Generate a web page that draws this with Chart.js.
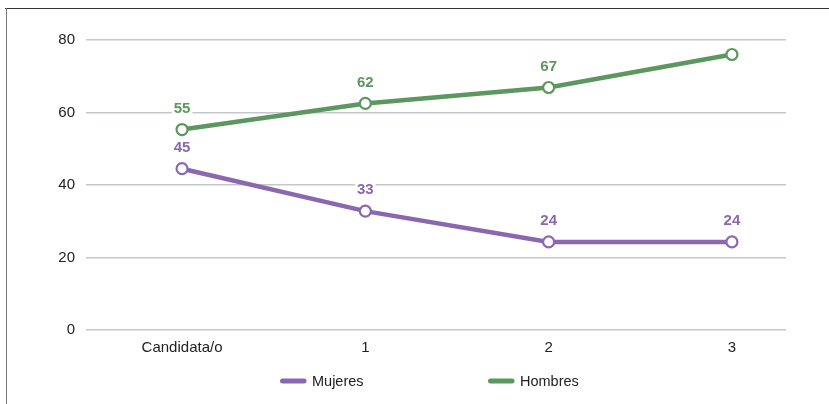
<!DOCTYPE html>
<html>
<head>
<meta charset="utf-8">
<script src="https://cdn.jsdelivr.net/npm/chart.js@4/dist/chart.umd.min.js"></script>
<style>
	html, body { margin: 0; padding: 0; background: #fff; }
	#wrap { position: relative; width: 829px; height: 404px; }
</style>
</head>
<body>
<div id="wrap"><canvas id="chart" width="829" height="404"></canvas></div>
<script>
	// values
	var categories = ['Candidata/o', '1', '2', '3'];
	var mujeres = [44.5, 32.8, 24.3, 24.3];
	var hombres = [55.3, 62.5, 66.9, 76];
	var mujeresLabels = ['45', '33', '24', '24'];
	var hombresLabels = ['55', '62', '67', null];
	var yTicks = [0, 20, 40, 60, 80];

	var purple = '#8b67b0';
	var green = '#5b975e';
	var fontFamily = '"Liberation Sans", Arial, Helvetica, sans-serif';

	function toPoints(values) {
		return values.map(function (v, i) {
			return { x: i, y: v };
		});
	}

	// frame lines round the figure
	var framePlugin = {
		id: 'frame',
		beforeDraw: function (chart) {
			var ctx = chart.ctx;
			ctx.save();
			ctx.fillStyle = '#fff';
			ctx.fillRect(0, 0, chart.width, chart.height);
			ctx.lineWidth = 1;
			ctx.strokeStyle = '#333';
			ctx.beginPath();
			ctx.moveTo(5, 8.5);
			ctx.lineTo(chart.width, 8.5);
			ctx.stroke();
			ctx.strokeStyle = '#777';
			ctx.beginPath();
			ctx.moveTo(6.5, 8);
			ctx.lineTo(6.5, chart.height);
			ctx.stroke();
			ctx.restore();
		}
	};

	// value labels above the points, on a white box
	var valueLabels = {
		id: 'valueLabels',
		afterDatasetsDraw: function (chart) {
			var ctx = chart.ctx;
			ctx.save();
			ctx.font = 'bold 15px ' + fontFamily;
			ctx.textAlign = 'center';
			ctx.textBaseline = 'middle';
			chart.data.datasets.forEach(function (ds, di) {
				var meta = chart.getDatasetMeta(di);
				meta.data.forEach(function (pt, i) {
					var txt = ds.valueLabels[i];
					if (!txt) {
						return;
					}
					var x = pt.x;
					var y = pt.y - 22;
					var w = ctx.measureText(txt).width;
					ctx.fillStyle = '#fff';
					ctx.fillRect(x - w / 2 - 2, y - 8, w + 4, 16);
					ctx.fillStyle = ds.borderColor;
					ctx.fillText(txt, x, y + 1);
				});
			});
			ctx.restore();
		}
	};

	// legend drawn under the axis, items spread apart
	var bottomLegend = {
		id: 'bottomLegend',
		afterDraw: function (chart) {
			var ctx = chart.ctx;
			var starts = [280, 488];
			var y = 381;
			ctx.save();
			ctx.font = '14.5px ' + fontFamily;
			ctx.textBaseline = 'middle';
			ctx.textAlign = 'left';
			chart.data.datasets.forEach(function (ds, di) {
				var x = starts[di];
				ctx.strokeStyle = ds.borderColor;
				ctx.lineWidth = 5;
				ctx.lineCap = 'round';
				ctx.beginPath();
				ctx.moveTo(x + 2.5, y);
				ctx.lineTo(x + 24, y);
				ctx.stroke();
				ctx.fillStyle = '#222';
				ctx.fillText(ds.label, x + 32, y + 1);
			});
			ctx.restore();
		}
	};

	new Chart(document.getElementById('chart'), {
		type: 'line',
		data: {
			datasets: [{
				label: 'Mujeres',
				data: toPoints(mujeres),
				valueLabels: mujeresLabels,
				borderColor: purple,
				backgroundColor: '#fff',
				borderWidth: 4.5,
				pointRadius: 5.5,
				pointBorderWidth: 2.2,
				pointBackgroundColor: '#fff',
				pointBorderColor: purple,
				tension: 0
			}, {
				label: 'Hombres',
				data: toPoints(hombres),
				valueLabels: hombresLabels,
				borderColor: green,
				backgroundColor: '#fff',
				borderWidth: 4.5,
				pointRadius: 5.5,
				pointBorderWidth: 2.2,
				pointBackgroundColor: '#fff',
				pointBorderColor: green,
				tension: 0
			}]
		},
		plugins: [framePlugin, valueLabels, bottomLegend],
		options: {
			responsive: false,
			animation: false,
			clip: false,
			layout: {
				padding: { left: 0, right: 43, top: 40, bottom: 34 }
			},
			plugins: {
				legend: { display: false },
				tooltip: { enabled: false }
			},
			scales: {
				x: {
					type: 'linear',
					min: -0.524,
					max: 3.295,
					grid: { display: false, drawTicks: false },
					border: { display: false },
					afterBuildTicks: function (scale) {
						scale.ticks = categories.map(function (c, i) {
							return { value: i };
						});
					},
					afterFit: function (scale) {
						scale.height = 40;
					},
					ticks: {
						padding: 9,
						color: '#222',
						font: { family: fontFamily, size: 15 },
						maxRotation: 0,
						autoSkip: false,
						callback: function (value) {
							return categories[value];
						}
					}
				},
				y: {
					min: 0,
					max: 80,
					afterBuildTicks: function (scale) {
						scale.ticks = yTicks.map(function (v) {
							return { value: v };
						});
					},
					afterFit: function (scale) {
						scale.width = 86;
					},
					grid: {
						color: '#c4c7cb',
						lineWidth: 1.5,
						drawTicks: false
					},
					border: { display: false },
					ticks: {
						padding: 11,
						color: '#222',
						font: { family: fontFamily, size: 15 }
					}
				}
			}
		}
	});
</script>
</body>
</html>
